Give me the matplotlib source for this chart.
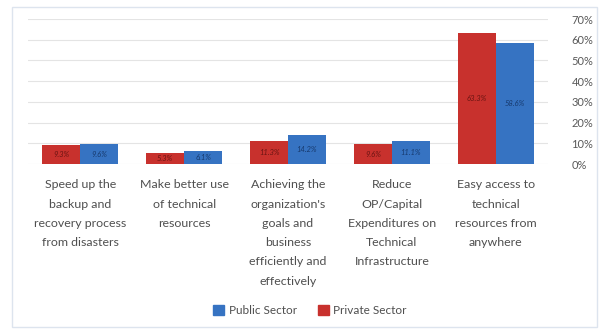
import numpy as np
import matplotlib
matplotlib.use("Agg")
import matplotlib.pyplot as plt
from matplotlib.patches import Rectangle, Patch

plt.rcParams["font.family"] = ["Lato", "DejaVu Sans"]

categories = [
    "Speed up the\nbackup and\nrecovery process\nfrom disasters",
    "Make better use\nof technical\nresources",
    "Achieving the\norganization's\ngoals and\nbusiness\nefficiently and\neffectively",
    "Reduce\nOP/Capital\nExpenditures on\nTechnical\nInfrastructure",
    "Easy access to\ntechnical\nresources from\nanywhere",
]
private_sector = [9.3, 5.3, 11.3, 9.6, 63.3]
public_sector = [9.6, 6.1, 14.2, 11.1, 58.6]
y_ticks = [0, 10, 20, 30, 40, 50, 60, 70]

RED = "#c8312d"
BLUE = "#3673c2"
TEXT = "#4f4f4f"

fig = plt.figure(figsize=(6.0, 3.29), dpi=100)
ax = fig.add_axes([0.047, 0.5015, 0.866, 0.4405])

x = np.arange(len(categories))
w = 0.365
bars_priv = ax.bar(x - w / 2, private_sector, w, color=RED, zorder=3)
bars_pub = ax.bar(x + w / 2, public_sector, w, color=BLUE, zorder=3)

# value labels sit in the middle of each bar
for bars, vals, c in [(bars_priv, private_sector, "#6a1412"), (bars_pub, public_sector, "#173a6e")]:
    for b, v in zip(bars, vals):
        ax.text(b.get_x() + b.get_width() / 2, v / 2, f"{v:.1f}%",
                ha="center", va="center", fontsize=5.5, color=c,
                style="italic", zorder=4)

ax.set_xlim(-0.5, len(categories) - 0.5)
ax.set_ylim(0, 70)
ax.set_yticks(y_ticks)
ax.set_yticklabels([f"{t}%" for t in y_ticks])
ax.yaxis.tick_right()
ax.tick_params(axis="y", length=0, pad=17, labelsize=8, labelcolor="#595959")
ax.set_xticks(x)
ax.set_xticklabels(categories, fontsize=8.9, color=TEXT, linespacing=1.92, va="top")
ax.tick_params(axis="x", length=0, pad=11)
ax.grid(axis="y", color="#e4e4e4", linewidth=0.8, zorder=0)
for s in ax.spines.values():
    s.set_visible(False)

handles = [Patch(color=BLUE, label="Public Sector"), Patch(color=RED, label="Private Sector")]
fig.legend(handles=handles, loc="center", bbox_to_anchor=(0.517, 0.055), ncol=2,
           frameon=False, fontsize=8.5, handlelength=0.9, handleheight=0.9,
           handletextpad=0.4, columnspacing=1.8, labelcolor=TEXT)

# light frame around the whole chart
fig.patches.append(Rectangle((0.02, 0.006), 0.975, 0.973, transform=fig.transFigure,
                             fill=False, edgecolor="#dde4ee", linewidth=1.0))

fig.savefig("out.png", dpi=100)
